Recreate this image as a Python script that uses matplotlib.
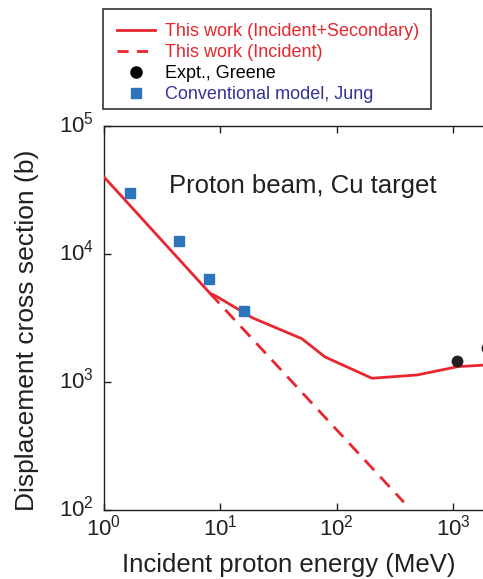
import matplotlib
matplotlib.use("Agg")
import matplotlib.pyplot as plt
import matplotlib.transforms as mtransforms
from matplotlib.lines import Line2D
from matplotlib.patches import Rectangle

plt.rcParams['font.family'] = ['Liberation Sans', 'DejaVu Sans']

# Data (MeV, barns)
total_E = [1.0, 8.1, 9.5, 19, 50, 79, 200, 490, 1100, 2000]
total_sigma = [40000, 4950, 4600, 3160, 2180, 1570, 1070, 1135, 1320, 1360]
incident_E = [8.1, 376]
incident_sigma = [4950, 115]
jung_E = [1.67, 4.4, 8.0, 15.9]
jung_sigma = [30000, 12600, 6380, 3590]
greene_E = [1070, 1950]
greene_sigma = [1450, 1850]

red = '#e8262d'
blue = '#2e74bd'
txt = '#231f20'

W, H = 483, 579
fig = plt.figure(figsize=(W/100, H/100), dpi=100)
ax = fig.add_axes([104/W, 69/H, 386/W, 384/H])

ax.plot(total_E, total_sigma, color=red, lw=2.0, solid_joinstyle='round', zorder=3)
ax.plot(incident_E, incident_sigma, color=red, lw=2.0, ls=(0, (5, 3.2)), zorder=3)
ax.plot(jung_E, jung_sigma, ls='none', marker='s', ms=6.5, color=blue, mec=blue, zorder=4)
ax.plot(greene_E, greene_sigma, ls='none', marker='o', ms=7.5, color=txt, zorder=4, clip_on=False)

ax.set_xscale('log')
ax.set_yscale('log')
ax.set_xlim(1, 10**3.315)
ax.set_ylim(100, 1e5)
ax.minorticks_off()
ax.set_xticks([1, 10, 100, 1000])
ax.set_yticks([100, 1000, 10000, 100000])
ax.tick_params(direction='in', top=True, right=True, length=5, width=1,
               labelsize=16, colors=txt)
ax.tick_params(axis='x', pad=3)
ax.tick_params(axis='y', pad=7)
for s in ax.spines.values():
    s.set_linewidth(1.0)
    s.set_color(txt)

# nudge y tick labels up slightly, as in the reference
offset = mtransforms.ScaledTranslation(0, 4/100, fig.dpi_scale_trans)
for lab in ax.get_yticklabels():
    lab.set_transform(lab.get_transform() + offset)

ax.set_xlabel('Incident proton energy (MeV)', fontsize=18.5, color=txt)
ax.set_ylabel('Displacement cross section (b)', fontsize=19, color=txt)
ax.xaxis.set_label_coords((289 - 104) / 386, -(565 - 510) / 384)
ax.yaxis.set_label_coords(-(104 - 27) / 386, (510 - 330) / 384)
ax.xaxis.label.set_va('center')
ax.yaxis.label.set_va('center')

fig.text(303/W, 1 - 193/H, 'Proton beam, Cu target', fontsize=18.5,
         color=txt, ha='center', va='baseline')

handles = [
    Line2D([], [], color=red, lw=2),
    Line2D([], [], color=red, lw=2, ls=(0, (4, 3))),
    Line2D([], [], ls='none', marker='o', ms=8, color='black'),
    Line2D([], [], ls='none', marker='s', ms=6.5, color=blue),
]
labels = ['This work (Incident+Secondary)', 'This work (Incident)',
          'Expt., Greene', 'Conventional model, Jung']
leg = fig.legend(handles, labels, loc='upper left',
                 bbox_to_anchor=(106/W, 1 - 12/H), frameon=False,
                 fontsize=13,
                 handlelength=2.1, handletextpad=0.55, labelspacing=0.22,
                 borderpad=0.62, borderaxespad=0)
colors = [red, red, 'black', '#333399']
for t, c in zip(leg.get_texts(), colors):
    t.set_color(c)

# legend frame
fig.patches.append(Rectangle((103/W, 1 - 109/H), 328/W, 100/H,
                             transform=fig.transFigure, fill=False,
                             edgecolor='#333333', lw=1.2))

fig.savefig('out.png', dpi=100)
